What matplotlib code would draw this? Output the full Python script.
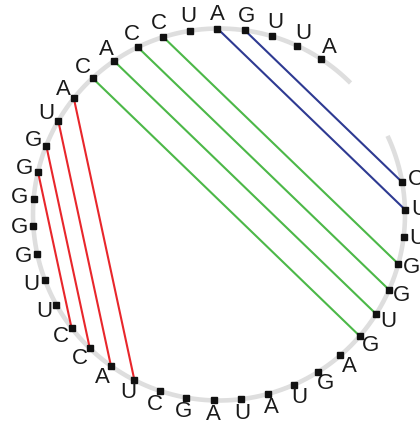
import matplotlib
matplotlib.use("Agg")
import matplotlib.pyplot as plt
import numpy as np

# sequence, read clockwise starting right after the gap
sequence = list("CUUGGUGAGUAUAGCUACCUUGGGGGUACACCUAGUUA")

# base pairs (index i, index j) per helix
pairs_blue = [(33, 1), (34, 0)]
pairs_green = [(31, 3), (30, 4), (29, 5), (28, 6)]
pairs_red = [(27, 15), (26, 16), (25, 17), (24, 18)]

helix_colors = {"blue": "#2e3a92", "green": "#4cb848", "red": "#e8262b"}

start_deg = 80.0      # clockwise from top
step_deg = 8.47
gap = (45.0, 65.0)    # backbone gap, clockwise from top

n = len(sequence)
theta = np.deg2rad(start_deg + step_deg * np.arange(n))
bx = np.sin(theta)
by = np.cos(theta)

fig = plt.figure(figsize=(4.2, 4.25), dpi=100)
ax = fig.add_axes([0, 0, 1, 1])
ax.set_xlim(-219 / 186, 201 / 186)
ax.set_ylim(-210.5 / 186, 214.5 / 186)
ax.axis("off")

# backbone circle with a gap
t = np.deg2rad(np.linspace(gap[1], gap[0] + 360, 400))
ax.plot(np.sin(t), np.cos(t), color="#dedede", lw=3.3, solid_capstyle="butt", zorder=1)

for name, pairs in [("blue", pairs_blue), ("green", pairs_green), ("red", pairs_red)]:
    for i, j in pairs:
        ax.plot([bx[i], bx[j]], [by[i], by[j]], color=helix_colors[name], lw=1.5, zorder=2)

ax.plot(bx, by, "s", color="#111111", ms=3.8, zorder=3)

rl = 200 / 186
for k, base in enumerate(sequence):
    ax.text(rl * bx[k], rl * by[k], base, ha="center", va="center",
            fontsize=16, family="Liberation Sans", color="#1a1a1a")

fig.savefig("out.png", dpi=100)
